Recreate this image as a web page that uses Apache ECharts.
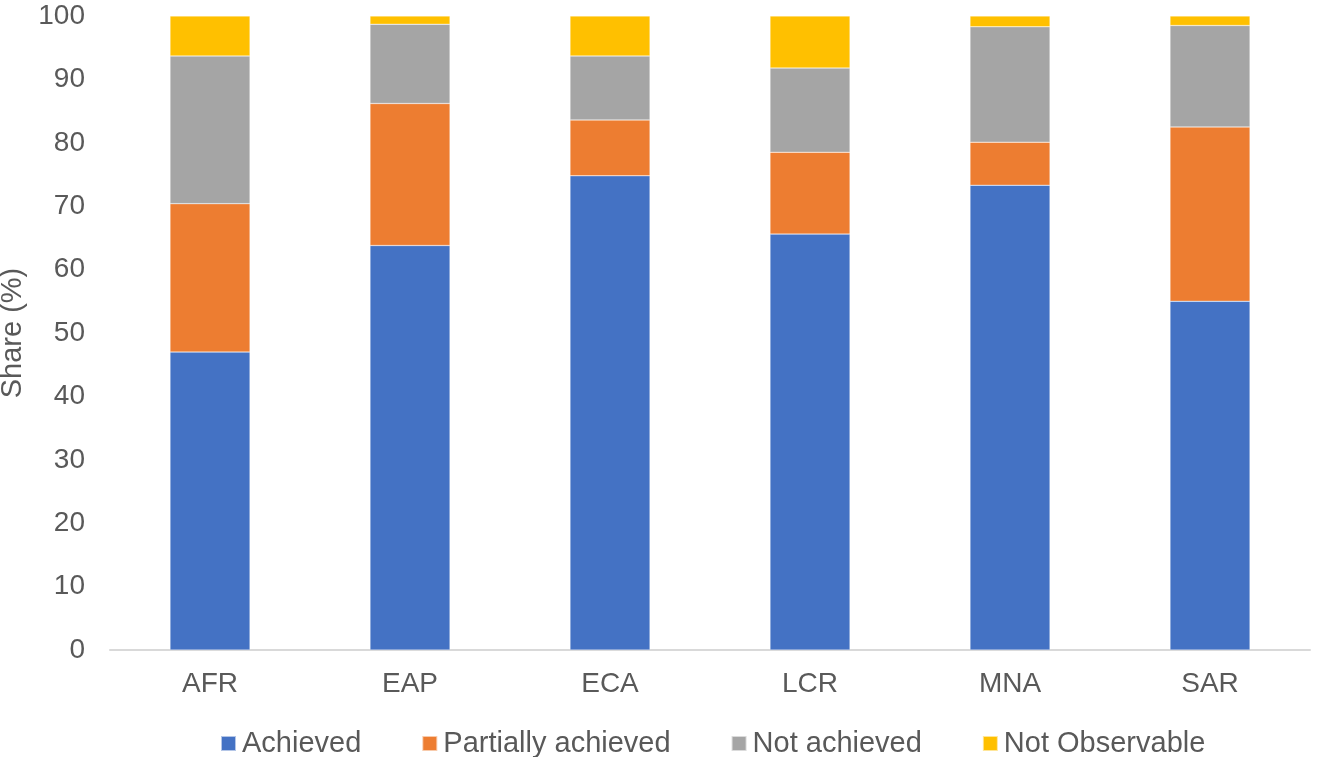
<!DOCTYPE html>
<html><head><meta charset="utf-8">
<script src="https://cdn.jsdelivr.net/npm/echarts@6/dist/echarts.min.js"></script>
<style>html,body{margin:0;padding:0;background:#fff}#c{width:1317px;height:757px}</style>
</head><body><div id="c"></div>
<script>
const categories = ['AFR','EAP','ECA','LCR','MNA','SAR'];
const achieved = [47.0, 63.8, 74.8, 65.6, 73.3, 55.0];
const partiallyAchieved = [23.4, 22.4, 8.8, 12.9, 6.8, 27.5];
const notAchieved = [23.3, 12.5, 10.1, 13.3, 18.2, 16.0];
const notObservable = [6.3, 1.3, 6.3, 8.2, 1.7, 1.5];
const seriesNames = ['Achieved','Partially achieved','Not achieved','Not Observable'];
const colors = ['#4472C4','#ED7D31','#A5A5A5','#FFC000'];
const values = [achieved, partiallyAchieved, notAchieved, notObservable];

const chart = echarts.init(document.getElementById('c'));
const font = 'Arial, "Liberation Sans", sans-serif';
chart.setOption({
  animation: false,
  textStyle: {fontFamily: font},
  grid: {left: 110, right: 7, top: 16, bottom: 107, containLabel: false, outerBoundsMode: 'none'},
  legend: {
    top: 729, left: 220, padding: 0, itemWidth: 15, itemHeight: 15, itemGap: 60,
    icon: 'rect',
    textStyle: {fontSize: 29, color: '#595959', fontFamily: font, padding: [0, 0, 0, 1]},
    data: seriesNames
  },
  xAxis: {
    type: 'category', data: categories,
    axisLine: {lineStyle: {color: '#D9D9D9', width: 2}},
    axisTick: {show: false},
    axisLabel: {fontSize: 28, color: '#595959', margin: 20, fontFamily: font}
  },
  yAxis: {
    type: 'value', min: 0, max: 100, interval: 10,
    name: 'Share (%)', nameLocation: 'middle', nameGap: 81,
    nameTextStyle: {fontSize: 29, color: '#595959', fontFamily: font},
    splitLine: {show: false},
    axisLine: {show: false}, axisTick: {show: false},
    axisLabel: {fontSize: 28, color: '#595959', margin: 25, fontFamily: font}
  },
  series: values.map((v, i) => ({
    name: seriesNames[i], type: 'bar', stack: 'total', data: v,
    barWidth: '40%',
    itemStyle: {color: colors[i], borderColor: 'rgba(255,255,255,0.6)', borderWidth: 0.5}
  }))
});
</script></body></html>
